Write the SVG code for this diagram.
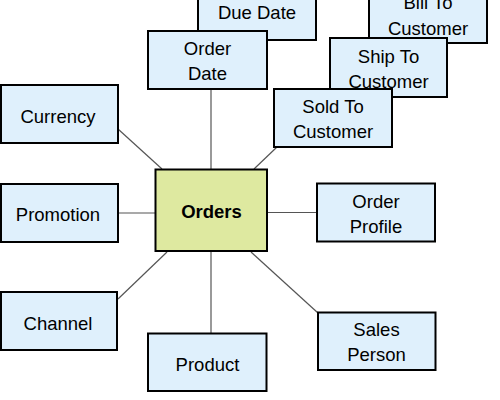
<svg xmlns="http://www.w3.org/2000/svg" width="500" height="400" viewBox="0 0 500 400">
<style>
.box{fill:#dff0fc;stroke:#000;stroke-width:2}
.center{fill:#dee9a0;stroke:#000;stroke-width:2}
.t{font-family:"Liberation Sans",Arial,sans-serif;font-size:18.5px;fill:#000;text-anchor:middle}
.b{font-weight:bold}
.c line{stroke:#555;stroke-width:1.2}
</style>
<rect width="500" height="400" fill="#fff"/>
<g id="connectors" class="c">
<line x1="118" y1="129" x2="162" y2="169"/>
<line x1="118" y1="213" x2="155" y2="213"/>
<line x1="118" y1="299" x2="167" y2="252"/>
<line x1="211" y1="89" x2="211" y2="169"/>
<line x1="211" y1="251" x2="211" y2="333"/>
<line x1="254" y1="169" x2="277" y2="147"/>
<line x1="267" y1="212.5" x2="317" y2="212.5"/>
<line x1="251" y1="252" x2="318" y2="313"/>
</g>
<g id="due-date"><rect class="box" x="198" y="-18" width="118" height="58"/><text class="t" x="257" y="19">Due Date</text></g>
<g id="order-date"><rect class="box" x="148" y="31" width="119" height="58"/><text class="t" x="207.5" y="55">Order</text><text class="t" x="207.5" y="80">Date</text></g>
<g id="bill-to-customer"><rect class="box" x="369" y="-15" width="118" height="58"/><text class="t" x="428" y="9">Bill To</text><text class="t" x="428" y="34.5">Customer</text></g>
<g id="ship-to-customer"><rect class="box" x="330" y="38" width="117" height="59"/><text class="t" x="388.5" y="62.5">Ship To</text><text class="t" x="388.5" y="87.5">Customer</text></g>
<g id="sold-to-customer"><rect class="box" x="274" y="89" width="118" height="58"/><text class="t" x="333" y="112.5">Sold To</text><text class="t" x="333" y="137.5">Customer</text></g>
<g id="currency"><rect class="box" x="1" y="85" width="117" height="58"/><text class="t" x="58" y="122.5">Currency</text></g>
<g id="promotion"><rect class="box" x="1" y="184" width="117" height="58"/><text class="t" x="58" y="221">Promotion</text></g>
<g id="channel"><rect class="box" x="1" y="292" width="116" height="58"/><text class="t" x="58" y="330">Channel</text></g>
<g id="orders"><rect class="center" x="155.5" y="169.5" width="111.5" height="81.5"/><text class="t b" x="211.5" y="217.5">Orders</text></g>
<g id="order-profile"><rect class="box" x="317" y="183.5" width="118" height="58"/><text class="t" x="376" y="207.5">Order</text><text class="t" x="376" y="233">Profile</text></g>
<g id="product"><rect class="box" x="148" y="333.5" width="118.5" height="57.5"/><text class="t" x="207.5" y="370.5">Product</text></g>
<g id="sales-person"><rect class="box" x="318" y="312.5" width="117.5" height="57.5"/><text class="t" x="376.5" y="335.5">Sales</text><text class="t" x="376.5" y="360.5">Person</text></g>
</svg>
